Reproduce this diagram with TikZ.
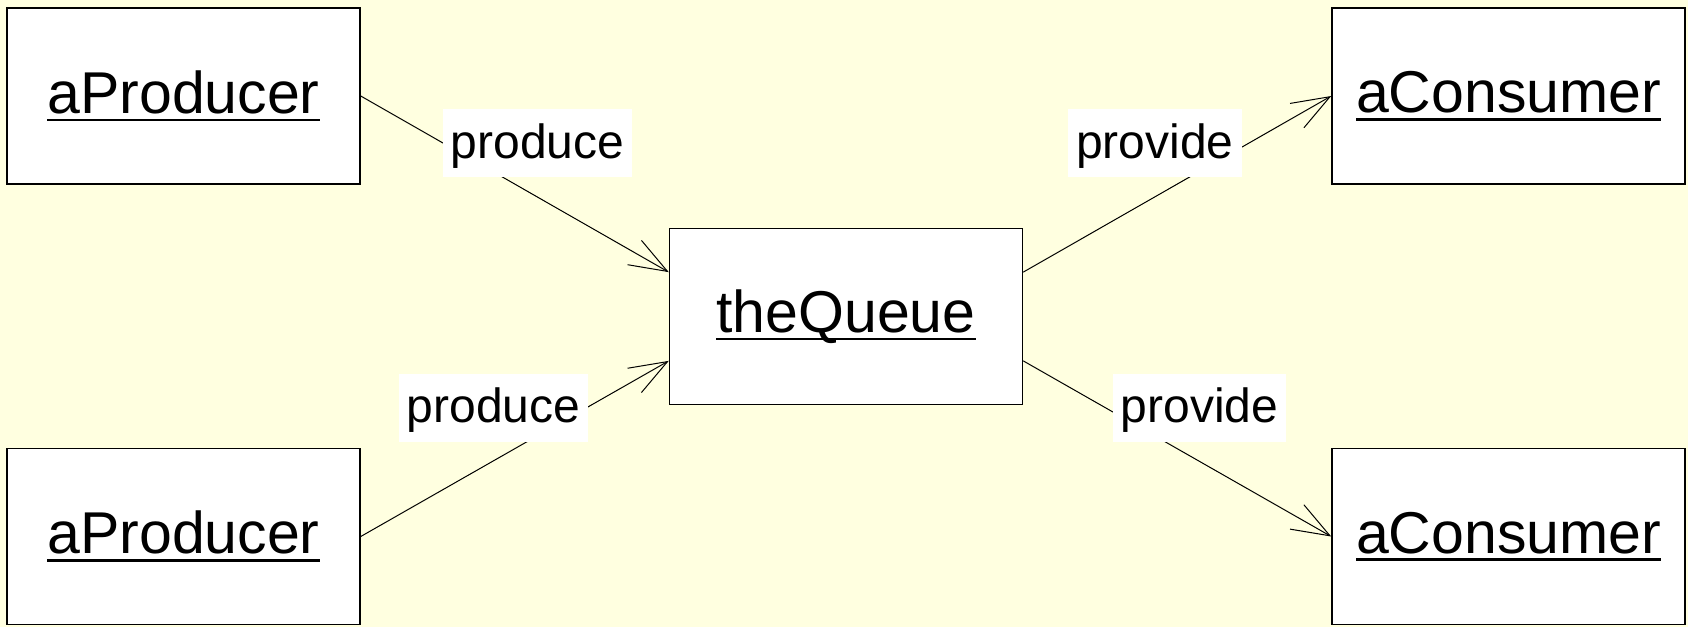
\documentclass[tikz,border=0pt]{standalone}
\usepackage{fontspec}
\setmainfont{Liberation Sans}
\usetikzlibrary{arrows.meta,calc}
\definecolor{bgyellow}{HTML}{FFFFE0}
\newcommand{\objname}[1]{\setbox0\hbox{#1}%
  \leavevmode\rlap{\rule[-4pt]{\wd0}{1.4pt}}\box0}
\tikzset{
  obj/.style = {draw, fill=white, line width=0.75pt,
                minimum width=176.5pt, minimum height=88pt,
                inner sep=0pt, font=\fontsize{29.5}{35}\selectfont},
  msg/.style = {fill=white, inner sep=4pt, minimum height=34pt,
                text height=20pt, text depth=5pt,
                font=\fontsize{24}{29}\selectfont},
  call/.style = {line width=0.5pt,
                 -{Straight Barb[length=19pt,width=14pt,line width=0.5pt]}}
}

\begin{document}
\begin{tikzpicture}[x=0.5pt, y=-0.5pt]
	% background
	\fill[bgyellow] (0,0) rectangle (1688,627);

	% Objects
	\node[obj] (prodA) at (183.5,96)    {\objname{aProducer}};
	\node[obj] (prodB) at (183.5,536.5) {\objname{aProducer}};
	\node[obj] (queue) at (846,316.5)   {\objname{theQueue}};
	\node[obj] (consA) at (1508.5,96)   {\objname{aConsumer}};
	\node[obj] (consB) at (1508.5,536.5) {\objname{aConsumer}};

	% Ports on the queue
	\coordinate (qinA)  at ($(queue.north west)!0.25!(queue.south west)$);
	\coordinate (qinB)  at ($(queue.north west)!0.75!(queue.south west)$);
	\coordinate (qoutA) at ($(queue.north east)!0.25!(queue.south east)$);
	\coordinate (qoutB) at ($(queue.north east)!0.75!(queue.south east)$);

	% Messages
	\draw[call] (prodA.east) -- (qinA);
	\draw[call] (prodB.east) -- (qinB);
	\draw[call] (qoutA) -- (consA.west);
	\draw[call] (qoutB) -- (consB.west);

	% Labels
	\node[msg] (putA) at (537.5,143)   {produce};
	\node[msg] (putB) at (493.5,407.5) {produce};
	\node[msg] (getA) at (1155,143)    {provide};
	\node[msg] (getB) at (1199.5,407.5) {provide};
\end{tikzpicture}
\end{document}
